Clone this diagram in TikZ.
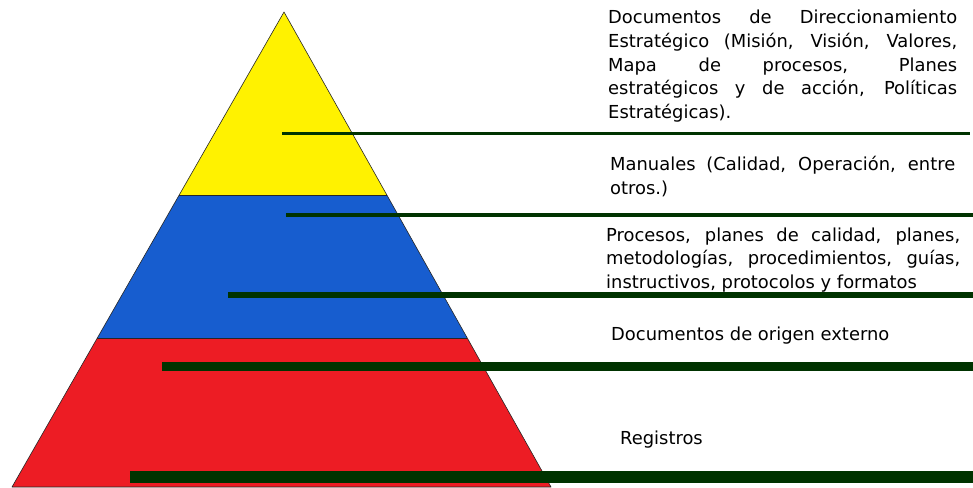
\documentclass[tikz,border=0pt]{standalone}
\usepackage{fontspec}
\setmainfont{DejaVu Sans}
\usetikzlibrary{calc}

\definecolor{piryellow}{RGB}{255,242,0}
\definecolor{pirblue}{RGB}{23,93,207}
\definecolor{pirred}{RGB}{237,28,36}
\definecolor{leadgreen}{RGB}{0,51,0}

\tikzset{
  band/.style={draw=black!85, line width=0.6pt, line join=round},
  leader/.style={leadgreen, line width=#1},
  doctext/.style={anchor=base west, inner sep=0pt, align=left,
    font=\fontsize{17.9}{23.75}\selectfont},
}
\newcommand{\jline}[2]{\makebox[#1][s]{#2}}

\begin{document}
\begin{tikzpicture}[x=1pt,y=-1pt]
\useasboundingbox (0,0) rectangle (973,487);

\coordinate (apex) at (284,12);
\coordinate (bl) at (12,487);
\coordinate (br) at (551,487);
\coordinate (yl) at ($(apex)!0.3853!(bl)$);
\coordinate (yr) at ($(apex)!0.3853!(br)$);
\coordinate (bbl) at ($(apex)!0.6863!(bl)$);
\coordinate (bbr) at ($(apex)!0.6863!(br)$);

% bands of the pyramid
\fill [pirred] (bbl) -- (bbr) -- (br) -- (bl) -- cycle;
\fill [pirblue] (yl) -- (yr) -- (bbr) -- (bbl) -- cycle;
\fill [piryellow] (apex) -- (yr) -- (yl) -- cycle;
\draw [band] (yl) -- (yr);
\draw [band] (bbl) -- (bbr);
\draw [band] (apex) -- (br) -- (bl) -- cycle;

% leader lines
\coordinate (s1) at (282,133.5);  \coordinate (e1) at (970,133.5);
\coordinate (s2) at (286,214.5);  \coordinate (e2) at (973,214.5);
\coordinate (s3) at (228,295);    \coordinate (e3) at (973,295);
\coordinate (s4) at (162,366.5);  \coordinate (e4) at (973,366.5);
\coordinate (s5) at (130,476.5);  \coordinate (e5) at (973,476.5);
\draw [leader=3pt] (s1) -- (e1);
\draw [leader=4pt] (s2) -- (e2);
\draw [leader=6pt] (s3) -- (e3);
\draw [leader=9pt] (s4) -- (e4);
\draw [leader=12pt] (s5) -- (e5);

% texts (anchored at the baseline of their last line)
\node (direc) [doctext] at (608,118.5) {\jline{349pt}{Documentos de Direccionamiento}\\
  \jline{349pt}{Estratégico (Misión, Visión, Valores,}\\
  \jline{349pt}{Mapa de procesos, Planes}\\
  \jline{349pt}{estratégicos y de acción, Políticas}\\
  Estratégicas).};
\node (manual) [doctext] at (610,194) {\jline{345pt}{Manuales (Calidad, Operación, entre}\\
  otros.)};
\node (proces) [doctext] at (606,288.5) {\jline{354pt}{Procesos, planes de calidad, planes,}\\
  \jline{354pt}{metodologías, procedimientos, guías,}\\
  instructivos, protocolos y formatos};
\node (extern) [doctext] at (611,340.5) {Documentos de origen externo};
\node (regist) [doctext] at (620,444.5) {Registros};

\end{tikzpicture}
\end{document}
